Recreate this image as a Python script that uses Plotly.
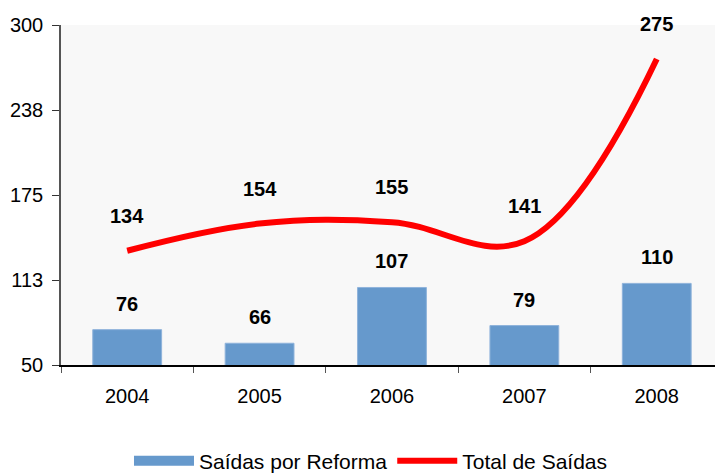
import plotly.graph_objects as go

years = ["2004", "2005", "2006", "2007", "2008"]
saidas_reforma = [76, 66, 107, 79, 110]
total_saidas = [134, 154, 155, 141, 275]
y_tickvals = [50, 112.5, 175, 237.5, 300]
y_ticktext = ["50", "113", "175", "238", "300"]

FONT = "Liberation Sans, Arial, sans-serif"
BAR_COLOR = "#6699CC"

fig = go.Figure()
fig.add_trace(go.Bar(
    x=years, y=saidas_reforma, name="Saídas por Reforma", showlegend=False,
    marker=dict(color=BAR_COLOR, line=dict(color="#8FB3DB", width=1)),
    width=0.52,
))
# legend swatch for the bars
fig.add_trace(go.Scatter(
    x=[None], y=[None], name="Saídas por Reforma", mode="lines",
    line=dict(color=BAR_COLOR, width=15),
))
fig.add_trace(go.Scatter(
    x=years, y=total_saidas, name="Total de Saídas", mode="lines",
    line=dict(color="#FF0000", width=6, shape="spline", smoothing=1.1),
))

for i, yv in enumerate(saidas_reforma):
    fig.add_annotation(x=i, y=yv, xref="x", yref="y", text="<b>" + str(yv) + "</b>",
                       showarrow=False, yshift=26,
                       font=dict(size=20, color="black"))
for i, yv in enumerate(total_saidas):
    fig.add_annotation(x=i, y=yv, xref="x", yref="y", text="<b>" + str(yv) + "</b>",
                       showarrow=False, yshift=35,
                       font=dict(size=20, color="black"))

fig.update_layout(
    width=715, height=474,
    margin=dict(l=61, r=0, t=25, b=109, autoexpand=False),
    paper_bgcolor="white", plot_bgcolor="#F8F8F8",
    font=dict(family=FONT, size=20, color="black"),
    showlegend=True,
    legend=dict(orientation="h", x=0.474, xanchor="center", y=-0.222, yanchor="top",
                font=dict(size=21), itemwidth=60, tracegroupgap=0,
                bgcolor="rgba(0,0,0,0)"),
    bargap=0.48,
)
fig.update_xaxes(
    type="category", range=[-0.5, 4.44], automargin=False,
    showline=True, linecolor="black", linewidth=1.5,
    ticks="outside", tickson="boundaries", ticklen=6, tickcolor="#555555",
    ticklabelstandoff=12, showgrid=False, zeroline=False,
    tickfont=dict(size=20),
)
fig.update_yaxes(
    range=[50, 300], tickvals=y_tickvals, ticktext=y_ticktext, automargin=False,
    showline=True, linecolor="#555555", linewidth=1.5,
    ticks="outside", ticklen=7, tickcolor="#333333",
    ticklabelstandoff=5, showgrid=False, zeroline=False,
    tickfont=dict(size=20),
)

fig.write_html("out.html", config={"displayModeBar": False},
               post_script="document.body.style.margin='0';")
